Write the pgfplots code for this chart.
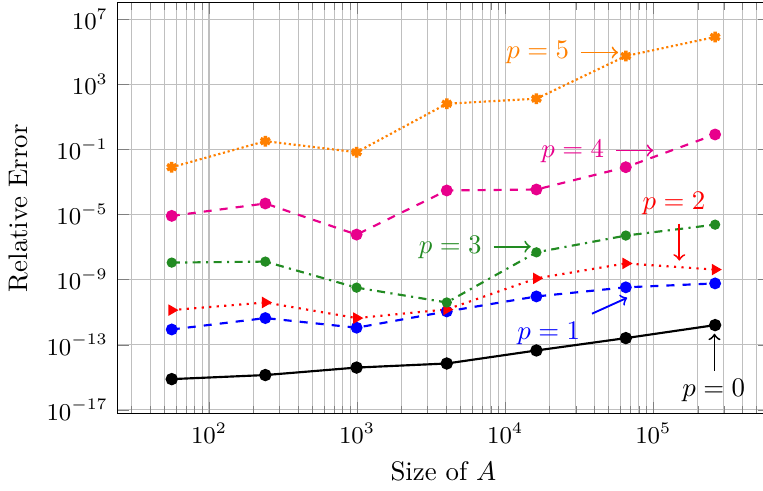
\documentclass[border=0pt]{standalone}
\usepackage{pgfplots}
\pgfplotsset{compat=1.18}
\definecolor{myorange}{RGB}{255,128,0}
\definecolor{mypink}{RGB}{232,0,140}
\definecolor{mygreen}{RGB}{34,139,34}
\begin{document}
\begin{tikzpicture}[trim right=240.6pt]
\begin{axis}[
  scale only axis,
  width=243pt, height=153pt,
  xmode=log, ymode=log,
  xlabel={Size of $A$},
  ylabel={Relative Error},
  ytick={1e-17,1e-13,1e-9,1e-5,1e-1,1e3,1e7},
  yminorticks=false,
  xmajorgrids, xminorgrids, ymajorgrids,
  tick label style={font=\small},
  ]
\addplot[black, thick, mark=*, mark size=1.9pt] coordinates {
 (56,7.76e-16) (240,1.38e-15) (992,3.98e-15) (4032,7.08e-15) (16256,4.47e-14) (65280,2.57e-13) (261632,1.62e-12)};
\addplot[blue, thick, dashed, mark=*, mark size=1.8pt, mark options={solid}] coordinates {
 (56,8.71e-13) (240,4.37e-12) (992,1.12e-12) (4032,1.12e-11) (16256,9.33e-11) (65280,3.39e-10) (261632,5.89e-10)};
\addplot[red, thick, dotted, mark=triangle*, mark size=1.7pt, mark options={solid, rotate=270}] coordinates {
 (56,1.35e-11) (240,3.98e-11) (992,4.37e-12) (4032,1.48e-11) (16256,1.20e-9) (65280,1.0e-8) (261632,4.17e-9)};
\addplot[mygreen, thick, dashdotted, mark=*, mark size=1.5pt, mark options={solid}] coordinates {
 (56,1.12e-8) (240,1.29e-8) (992,3.24e-10) (4032,3.98e-11) (16256,4.79e-8) (65280,5.13e-7) (261632,2.40e-6)};
\addplot[mypink, thick, dashed, mark=*, mark size=1.8pt, mark options={solid}] coordinates {
 (56,8.32e-6) (240,4.79e-5) (992,5.89e-7) (4032,3.02e-4) (16256,3.47e-4) (65280,8.13e-3) (261632,0.832)};
\addplot[myorange, thick, densely dotted, mark=asterisk, mark size=2pt, mark options={solid, line width=1.3pt}] coordinates {
 (56,8.13e-3) (240,0.324) (992,6.76e-2) (4032,64.6) (16256,131.8) (65280,5.50e4) (261632,8.13e5)};
% annotations
\node[myorange] at (axis cs:1.66e4,9.12e4) {$p=5$};
\draw[myorange, line width=0.7pt, ->] (axis cs:3.24e4,9.12e4) -- (axis cs:5.79e4,9.12e4);
\node[mypink] at (axis cs:2.86e4,7.94e-2) {$p=4$};
\draw[mypink, line width=0.7pt, ->] (axis cs:5.61e4,8.71e-2) -- (axis cs:1e5,8.71e-2);
\node[mygreen] at (axis cs:4.25e3,1e-7) {$p=3$};
\draw[mygreen, line width=0.7pt, ->] (axis cs:8.34e3,1.07e-7) -- (axis cs:1.49e4,1.07e-7);
\node[red] at (axis cs:1.38e5,4.79e-5) {$p=2$};
\draw[red, line width=0.7pt, ->] (axis cs:1.50e5,2.82e-6) -- (axis cs:1.50e5,1.48e-8);
\node[blue] at (axis cs:1.97e4,4.79e-13) {$p=1$};
\draw[blue, line width=0.7pt, ->] (axis cs:3.86e4,8.13e-12) -- (axis cs:6.67e4,7.76e-11);
\node[black] at (axis cs:2.56e5,1.48e-16) {$p=0$};
\draw[black, line width=0.7pt, ->] (axis cs:2.59e5,2.51e-15) -- (axis cs:2.59e5,4.79e-13);
\end{axis}
\end{tikzpicture}
\end{document}
